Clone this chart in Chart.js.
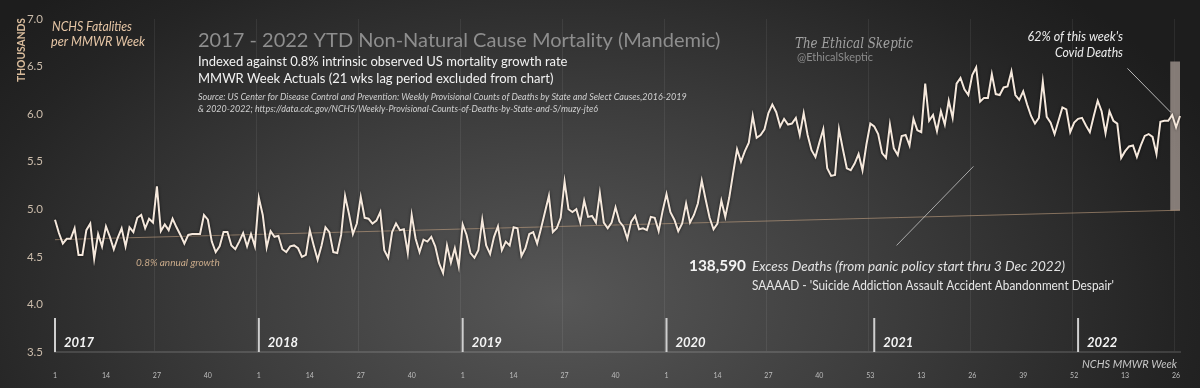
<!DOCTYPE html>
<html>
<head>
<meta charset="utf-8">
<script src="https://cdn.jsdelivr.net/npm/chart.js@4.4.0/dist/chart.umd.min.js"></script>
<style>
  html, body { margin: 0; padding: 0; }
  body {
    width: 1200px; height: 388px; overflow: hidden;
    background: radial-gradient(ellipse 720px 430px at 560px 300px, #575757 0%, #3d3d3d 45%, #242424 85%, #1d1d1d 100%);
  }
  canvas { display: block; }
</style>
</head>
<body>
<canvas id="chart" width="1200" height="388"></canvas>
<script>
// weekly non-natural cause deaths, thousands
const years = ["2017", "2018", "2019", "2020", "2021", "2022"];
const weeksPerYear = [52, 52, 52, 53, 52, 27];

const deaths2017 = [4.89, 4.75, 4.64, 4.69, 4.69, 4.80, 4.52, 4.52, 4.78, 4.85, 4.48, 4.74, 4.61, 4.82, 4.71, 4.58, 4.70, 4.80, 4.61, 4.81,
  4.76, 4.91, 4.94, 4.80, 4.90, 4.86, 5.24, 4.77, 4.84, 4.78, 4.90, 4.81, 4.73, 4.64, 4.73, 4.74, 4.74, 4.74, 4.94, 4.89,
  4.66, 4.55, 4.61, 4.76, 4.76, 4.62, 4.58, 4.66, 4.75, 4.61, 4.74, 4.61];
const deaths2018 = [5.12, 4.94, 4.60, 4.77, 4.71, 4.72, 4.58, 4.55, 4.61, 4.62, 4.59, 4.50, 4.52, 4.78, 4.62, 4.47, 4.62, 4.81, 4.76, 4.55,
  4.54, 4.73, 5.14, 4.95, 4.74, 4.85, 5.13, 4.91, 4.90, 4.85, 4.88, 4.97, 4.57, 4.49, 4.76, 4.85, 4.78, 4.79, 4.54, 4.94,
  4.69, 4.55, 4.68, 4.66, 4.71, 4.61, 4.43, 4.33, 4.62, 4.44, 4.59, 4.40];
const deaths2019 = [4.84, 4.73, 4.54, 4.49, 4.57, 4.89, 4.62, 4.53, 4.71, 4.82, 4.57, 4.66, 4.62, 4.81, 4.80, 4.51, 4.59, 4.74, 4.76, 4.64,
  4.80, 4.97, 5.14, 4.76, 4.80, 4.91, 5.29, 5.00, 4.97, 5.00, 4.86, 5.09, 4.92, 4.93, 4.86, 5.17, 4.86, 4.80, 4.86, 5.02,
  4.87, 4.82, 4.69, 4.87, 4.93, 4.79, 4.80, 4.78, 4.92, 4.91, 4.77, 4.98];
const deaths2020 = [5.16, 4.97, 4.89, 4.77, 4.85, 5.06, 4.86, 4.94, 5.06, 5.30, 5.10, 4.91, 4.79, 4.85, 5.09, 4.92, 5.12, 5.38, 5.63, 5.50,
  5.61, 5.70, 5.98, 5.75, 5.78, 5.84, 6.01, 6.10, 6.02, 5.87, 5.95, 5.89, 5.90, 5.96, 5.78, 6.01, 5.78, 5.62, 5.55, 5.70,
  5.84, 5.43, 5.35, 5.36, 5.84, 5.63, 5.43, 5.41, 5.48, 5.58, 5.41, 5.68, 5.90];
const deaths2021 = [5.87, 5.79, 5.59, 5.54, 5.89, 5.64, 5.57, 5.77, 5.78, 5.67, 5.95, 5.83, 5.81, 6.32, 5.93, 5.99, 5.82, 6.03, 5.89, 6.14,
  5.96, 6.32, 6.38, 6.26, 6.20, 6.41, 6.49, 6.13, 6.17, 6.17, 6.42, 6.21, 6.20, 6.28, 6.29, 6.45, 6.20, 6.15, 6.24, 6.10,
  5.98, 5.90, 5.96, 6.34, 5.97, 5.91, 5.79, 5.93, 6.07, 6.05, 5.81, 5.91];
const deaths2022 = [5.95, 5.96, 5.88, 5.81, 5.98, 6.14, 6.03, 5.80, 6.03, 5.93, 5.90, 5.54, 5.61, 5.66, 5.67, 5.55, 5.67, 5.77, 5.79, 5.76,
  5.58, 5.92, 5.93, 5.93, 5.99, 5.86, 5.98];

// 0.8% growth baseline, ends as drawn
const trendStart = 4.68;
const trendEnd = 4.99;
// grey column for the last weeks (covid share)
const covidBar = [4.99, 6.55];
// pointer lines [index, value]
const excessPointer = [[214.7, 4.62], [234.3, 5.45]];
const covidPointer = [[273.6, 6.48], [284.6, 6.02]];

const values = [].concat(deaths2017, deaths2018, deaths2019, deaths2020, deaths2021, deaths2022);
const weekLabels = [];
const yearStarts = [];
weeksPerYear.forEach(n => {
  yearStarts.push(weekLabels.length);
  for (let w = 1; w <= n; w++) weekLabels.push(String(w));
});
const last = values.length - 1;
const trendData = values.map((_, i) => i === 0 ? trendStart : (i === last ? trendEnd : null));
const barData = values.map((_, i) => i === last - 1 ? covidBar : null);

function txt(ctx, s, x, y, font, color, align, maxW) {
  ctx.font = font;
  ctx.fillStyle = color;
  ctx.textAlign = align || "left";
  ctx.textBaseline = "alphabetic";
  if (maxW) ctx.fillText(s, x, y, maxW); else ctx.fillText(s, x, y);
}

const decor = {
  id: "decor",
  beforeDatasetDraw(chart, args) {
    if (args.index === 0) {
      chart.ctx.save();
      chart.ctx.shadowColor = "rgba(0,0,0,0.7)";
      chart.ctx.shadowBlur = 3;
    }
  },
  afterDatasetDraw(chart, args) {
    if (args.index === 0) chart.ctx.restore();
  },
  afterDraw(chart) {
    const ctx = chart.ctx;
    const xs = chart.scales.x, ys = chart.scales.y;
    const bottom = chart.chartArea.bottom;
    ctx.save();

    // year separators and labels
    yearStarts.forEach((s, k) => {
      const x = xs.getPixelForValue(s);
      ctx.fillStyle = "#cfcfcf";
      ctx.fillRect(x - 1, bottom - 34, 2, 34);
      txt(ctx, years[k], x + 9, bottom - 5, "italic bold 13px Lato", "#f4f4f4", "left");
    });

    // pointer lines
    ctx.lineWidth = 1;
    [[excessPointer, "rgba(230,230,230,0.65)"], [covidPointer, "rgba(235,235,235,0.75)"]].forEach(([p, c]) => {
      ctx.strokeStyle = c;
      ctx.beginPath();
      ctx.moveTo(xs.getPixelForValue(p[0][0]), ys.getPixelForValue(p[0][1]));
      ctx.lineTo(xs.getPixelForValue(p[1][0]), ys.getPixelForValue(p[1][1]));
      ctx.stroke();
    });

    // axis title
    ctx.save();
    ctx.translate(25, 50);
    ctx.rotate(-Math.PI / 2);
    txt(ctx, "THOUSANDS", 0, 0, "bold 10.5px Lato", "#d9bc9c", "center", 64);
    ctx.restore();

    txt(ctx, "NCHS Fatalities", 52, 31, "italic 13px Lato", "#e6c6a6", "left", 80);
    txt(ctx, "per MMWR Week", 51, 46, "italic 13px Lato", "#e6c6a6", "left", 94);

    txt(ctx, "2017 - 2022 YTD Non-Natural Cause Mortality (Mandemic)", 198, 47, "20px Lato", "#8e8e8e", "left", 559);
    txt(ctx, "Indexed against 0.8% intrinsic observed US mortality growth rate", 198, 66, "13px Lato", "#f2f2f2", "left", 372);
    txt(ctx, "MMWR Week Actuals (21 wks lag period excluded from chart)", 198, 83, "13px Lato", "#f2f2f2", "left", 356);
    txt(ctx, "Source: US Center for Disease Control and Prevention: Weekly Provisional Counts of Deaths by State and Select Causes,2016-2019",
      198, 100, "italic 9px Lato", "#d0d0d0", "left", 496);
    txt(ctx, "& 2020-2022; https://data.cdc.gov/NCHS/Weekly-Provisional-Counts-of-Deaths-by-State-and-S/muzy-jte6",
      198, 112, "italic 9px Lato", "#d0d0d0", "left", 400);

    txt(ctx, "The Ethical Skeptic", 795, 48, "italic 15px 'DejaVu Serif'", "#a2a2a2", "left", 118);
    txt(ctx, "@EthicalSkeptic", 797, 61, "11px Lato", "#8c8c8c", "left", 76);

    txt(ctx, "62% of this week's", 1123, 41, "italic 12.5px Lato", "#ececec", "right", 97);
    txt(ctx, "Covid Deaths", 1123, 57, "italic 12.5px Lato", "#ececec", "right", 68);

    txt(ctx, "0.8% annual growth", 136, 266, "italic 10px Lato", "#c9aa8a", "left", 87);

    txt(ctx, "138,590", 689, 271, "bold 16px Lato", "#f4f4f4", "left", 57);
    txt(ctx, "Excess Deaths (from panic policy start thru 3 Dec 2022)", 752, 271, "italic 13.5px Lato", "#e2e2e2", "left", 315);
    txt(ctx, "SAAAAD - 'Suicide Addiction Assault Accident Abandonment Despair'", 752, 290, "12.5px Lato", "#e6e6e6", "left", 362);

    txt(ctx, "NCHS MMWR Week", 1177, 368, "italic 12px Lato", "#c8c8c8", "right", 95);
    ctx.restore();
  }
};

new Chart(document.getElementById("chart").getContext("2d"), {
  data: {
    labels: weekLabels,
    datasets: [
      {
        type: "line",
        label: "Non-natural cause deaths",
        data: values,
        borderColor: "#f5e8dc",
        borderWidth: 2,
        pointRadius: 0,
        tension: 0,
        order: 0
      },
      {
        type: "line",
        label: "0.8% annual growth",
        data: trendData,
        borderColor: "rgba(205,170,135,0.55)",
        borderWidth: 1,
        pointRadius: 0,
        spanGaps: true,
        order: 1
      },
      {
        type: "bar",
        label: "Covid share",
        data: barData,
        backgroundColor: "rgba(150,140,134,0.85)",
        barThickness: 11,
        order: 2
      }
    ]
  },
  options: {
    responsive: false,
    animation: false,
    layout: { padding: { top: 13, right: 16, left: 0, bottom: 0 } },
    plugins: { legend: { display: false }, tooltip: { enabled: false } },
    scales: {
      x: {
        type: "category",
        offset: false,
        grid: {
          drawTicks: false,
          color: c => (c.index % 26 === 0 ? "rgba(255,255,255,0.07)" : "rgba(0,0,0,0)")
        },
        border: { color: "rgba(255,255,255,0.13)", width: 2 },
        ticks: {
          autoSkip: false,
          maxRotation: 0,
          padding: 20,
          color: "#bdbdbd",
          font: { family: "Lato", size: 7 },
          callback: (v, i) => (i % 13 === 0 ? weekLabels[i] : "")
        },
        afterFit: s => { s.height = 36; }
      },
      y: {
        min: 3.5,
        max: 7.0,
        ticks: {
          stepSize: 0.5,
          padding: 12,
          color: "#cbbcab",
          font: { family: "Lato", size: 11.5 },
          callback: v => Number(v).toFixed(1)
        },
        grid: { display: false, drawTicks: false },
        border: { display: false },
        afterFit: s => { s.width = 55; }
      }
    }
  },
  plugins: [decor]
});
</script>
</body>
</html>
